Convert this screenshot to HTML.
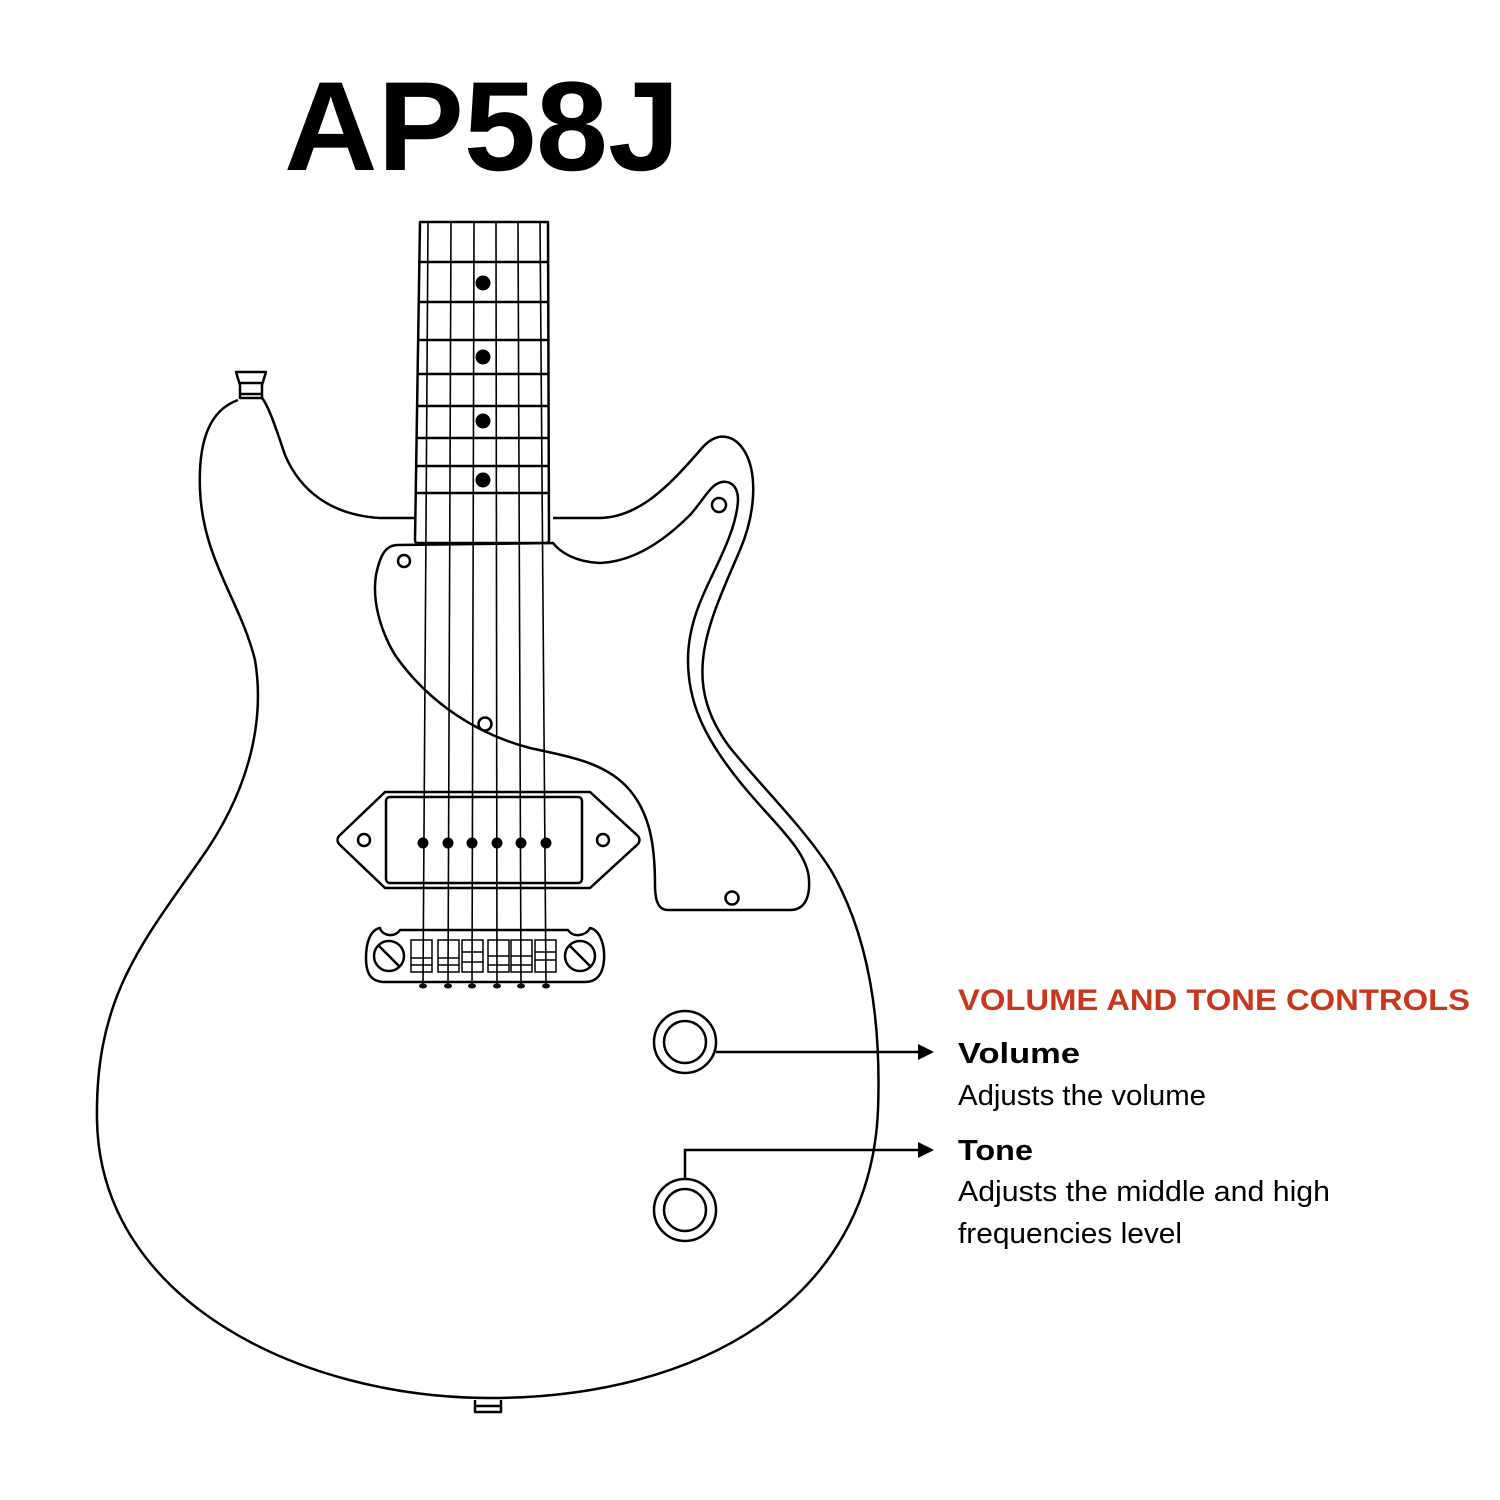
<!DOCTYPE html>
<html><head><meta charset="utf-8"><style>html,body{margin:0;padding:0;background:#fff}svg{display:block}</style></head>
<body>
<svg width="1500" height="1500" viewBox="0 0 1500 1500" xmlns="http://www.w3.org/2000/svg" font-family="Liberation Sans, sans-serif">
<rect width="1500" height="1500" fill="#fff"/>
<text x="284" y="170" font-size="127" font-weight="bold" textLength="396" lengthAdjust="spacingAndGlyphs">AP58J</text>
<g fill="none" stroke="#000" stroke-width="2.5" stroke-linejoin="round">
<!-- body -->
<path d="M238,400 C210,410 198,440 200,490 C203,560 240,600 255,660 C265,720 250,790 200,860 C140,945 95,1000 97,1120 C100,1300 300,1398 490,1398 C700,1398 870,1300 878,1110 C882,1000 862,925 832,872 C805,828 755,780 728,745 C708,717 700,690 703,660 C706,625 725,585 740,550 C755,515 758,475 745,452 C735,435 718,430 702,448 C670,485 640,517 600,518 L553,518"/>
<path d="M415,518 L380,518 C330,515 300,490 285,455 C275,425 268,405 262,398"/>
<!-- left strap button -->
<path d="M240,398 L240,385 L236,372 L266,372 L262,385 L262,398 Z"/>
<line x1="240" y1="383" x2="262" y2="383"/><line x1="240" y1="394" x2="262" y2="394"/>
<!-- bottom strap button -->
<path d="M475,1400 L475,1412 L501,1412 L501,1400"/><line x1="475" y1="1406" x2="501" y2="1406"/>
<!-- pickguard -->
<path d="M553,543 C560,552 575,562 600,563 C630,562 660,545 690,515 C700,504 708,490 715,485 C725,478 738,482 738,500 C737,525 722,555 710,580 C698,605 688,630 688,660 C688,700 702,735 740,782 C772,822 808,850 809,880 C810,897 805,910 790,910 L668,910 C658,910 655,900 655,885 C655,845 650,810 625,785 C600,760 560,755 530,748 C480,735 430,705 395,655 C380,630 372,600 376,575 C380,556 385,545 398,545 Z"/>
<!-- neck -->
<path d="M420,222 L548,222 L549,540 Q549,543 546,543 L418,543 Q415,543 415,540 Z"/>
<line x1="418" y1="262" x2="548" y2="262"/><line x1="418" y1="302" x2="548" y2="302"/><line x1="417" y1="340" x2="548" y2="340"/><line x1="417" y1="374" x2="548" y2="374"/><line x1="417" y1="406" x2="548" y2="406"/><line x1="416" y1="438" x2="548" y2="438"/><line x1="416" y1="466" x2="548" y2="466"/><line x1="416" y1="493" x2="549" y2="493"/>
<!-- pickup -->
<path d="M385,792 L590,792 L638,836 Q641,840 638,844 L590,888 L385,888 L339,844 Q336,840 339,836 Z"/>
<rect x="386" y="797" width="196" height="86" rx="4"/>
<circle cx="364" cy="840" r="6"/><circle cx="603" cy="840" r="6"/>
<!-- pickguard screws -->
<circle cx="404" cy="561" r="6"/><circle cx="719" cy="505" r="7"/><circle cx="485" cy="724" r="6.5"/><circle cx="732" cy="898" r="6.5"/>
<!-- bridge -->
<path d="M380,928 C382,936 395,938 400,930 L568,930 C573,938 586,936 590,928 C600,930 605,945 604,960 C603,975 596,982 585,982 L385,982 C372,982 366,975 366,958 C366,943 370,930 380,928 Z"/>
<circle cx="389" cy="956" r="15"/><line x1="379" y1="946" x2="399" y2="966"/>
<circle cx="580" cy="956" r="15"/><line x1="570" y1="946" x2="590" y2="966"/>
</g>
<g fill="none" stroke="#000" stroke-width="1.5">
<rect x="411" y="940" width="21" height="32"/><rect x="438" y="940" width="21" height="32"/><rect x="462" y="940" width="21" height="32"/><rect x="488" y="940" width="21" height="32"/><rect x="511" y="940" width="21" height="32"/><rect x="535" y="940" width="21" height="32"/>
<line x1="411" y1="958" x2="432" y2="958"/><line x1="411" y1="965" x2="432" y2="965"/>
<line x1="438" y1="958" x2="459" y2="958"/><line x1="438" y1="965" x2="459" y2="965"/>
<line x1="462" y1="952" x2="483" y2="952"/><line x1="462" y1="962" x2="483" y2="962"/>
<line x1="488" y1="956" x2="509" y2="956"/><line x1="488" y1="965" x2="509" y2="965"/>
<line x1="511" y1="956" x2="532" y2="956"/><line x1="511" y1="965" x2="532" y2="965"/>
<line x1="535" y1="952" x2="556" y2="952"/><line x1="535" y1="960" x2="556" y2="960"/>
</g>
<!-- strings -->
<g stroke="#000" stroke-width="1.6">
<line x1="428" y1="222" x2="423" y2="985"/><line x1="451" y1="222" x2="448" y2="985"/><line x1="474" y1="222" x2="472" y2="985"/><line x1="496" y1="222" x2="497" y2="985"/><line x1="518" y1="222" x2="521" y2="985"/><line x1="540" y1="222" x2="546" y2="985"/>
</g>
<g fill="#000">
<circle cx="483" cy="283" r="7.5"/><circle cx="483" cy="357" r="7.5"/><circle cx="483" cy="421" r="7.5"/><circle cx="483" cy="480" r="7.5"/>
<circle cx="423" cy="843" r="5.5"/><circle cx="448" cy="843" r="5.5"/><circle cx="472" cy="843" r="5.5"/><circle cx="497" cy="843" r="5.5"/><circle cx="521" cy="843" r="5.5"/><circle cx="546" cy="843" r="5.5"/>
<ellipse cx="423" cy="986" rx="4" ry="2.5"/><ellipse cx="448" cy="986" rx="4" ry="2.5"/><ellipse cx="472" cy="986" rx="4" ry="2.5"/><ellipse cx="497" cy="986" rx="4" ry="2.5"/><ellipse cx="521" cy="986" rx="4" ry="2.5"/><ellipse cx="546" cy="986" rx="4" ry="2.5"/>
</g>
<!-- controls -->
<g fill="none" stroke="#000" stroke-width="2.5">
<circle cx="685" cy="1042" r="31"/><circle cx="685" cy="1042" r="21"/>
<circle cx="685" cy="1210" r="31"/><circle cx="685" cy="1210" r="21"/>
<line x1="716" y1="1052" x2="922" y2="1052"/>
<path d="M685,1179 L685,1150 L922,1150"/>
</g>
<polygon points="918,1044 934,1052 918,1060" fill="#000"/>
<polygon points="918,1142 934,1150 918,1158" fill="#000"/>
<text x="958" y="1010" font-size="30" font-weight="bold" fill="#c8381f" textLength="512" lengthAdjust="spacingAndGlyphs">VOLUME AND TONE CONTROLS</text>
<text x="958" y="1063" font-size="29" font-weight="bold" textLength="122" lengthAdjust="spacingAndGlyphs">Volume</text>
<text x="958" y="1105" font-size="29" textLength="248" lengthAdjust="spacingAndGlyphs">Adjusts the volume</text>
<text x="958" y="1160" font-size="29" font-weight="bold" textLength="75" lengthAdjust="spacingAndGlyphs">Tone</text>
<text x="958" y="1201" font-size="29" textLength="372" lengthAdjust="spacingAndGlyphs">Adjusts the middle and high</text>
<text x="958" y="1243" font-size="29" textLength="224" lengthAdjust="spacingAndGlyphs">frequencies level</text>
</svg>
</body></html>
